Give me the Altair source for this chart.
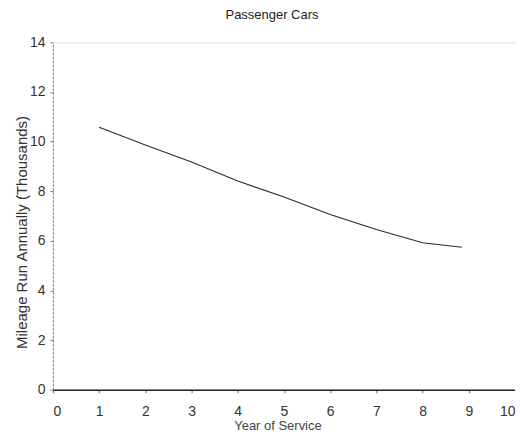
import altair as alt
import pandas as pd

years = [1, 2, 3, 4, 5, 6, 7, 8, 8.85]
mileage = [10.58, 9.86, 9.18, 8.41, 7.77, 7.06, 6.46, 5.92, 5.74]

df = pd.DataFrame({"year": years, "mileage": mileage})

FONT = "Liberation Sans Narrow, Liberation Sans, Arial"

line = alt.Chart(df).mark_line(color="#2a2a2a", strokeWidth=1.1).encode(
    x=alt.X(
        "year:Q",
        scale=alt.Scale(domain=[0, 10], nice=False, zero=True),
        axis=alt.Axis(
            title="Year of Service",
            values=list(range(0, 11)),
            grid=False,
            tickSize=3,
            labelPadding=12,
            labelFontSize=14,
            labelColor="#333",
            labelFont=FONT,
            labelFlush=True,
            domainColor="#222",
            domainWidth=1.5,
            tickColor="#666",
            titleFont=FONT,
            titleFontSize=13,
            titleFontWeight="normal",
            titleColor="#444",
            titleY=36,
            titleX=225,
            titleAlign="center",
            titleBaseline="middle",
        ),
    ),
    y=alt.Y(
        "mileage:Q",
        scale=alt.Scale(domain=[0, 14], nice=False),
        axis=alt.Axis(
            title="Mileage Run Annually (Thousands)",
            values=[0, 2, 4, 6, 8, 10, 12, 14],
            grid=False,
            tickSize=3,
            labelPadding=5,
            labelFontSize=14,
            labelColor="#333",
            labelFont=FONT,
            domainColor="#777",
            domainDash=[2, 2],
            tickColor="#777",
            titleFont=FONT,
            titleFontSize=15,
            titleFontWeight="normal",
            titleColor="#333",
            titleX=-31,
            titleY=190,
            titleAlign="center",
            titleBaseline="middle",
        ),
    ),
)

chart = (
    line.properties(
        width=463,
        height=348,
        title=alt.TitleParams(
            "Passenger Cars",
            font=FONT,
            fontSize=13,
            fontWeight="normal",
            color="#222",
            offset=13,
            dx=-12,
        ),
        autosize=alt.AutoSizeParams(type="none"),
        padding={"left": 45, "top": 34, "right": 0, "bottom": 43},
    )
    .configure_view(stroke=None)
    .configure(background="white")
)

chart.save("out.html", embed_options={"renderer": "svg", "actions": False})
